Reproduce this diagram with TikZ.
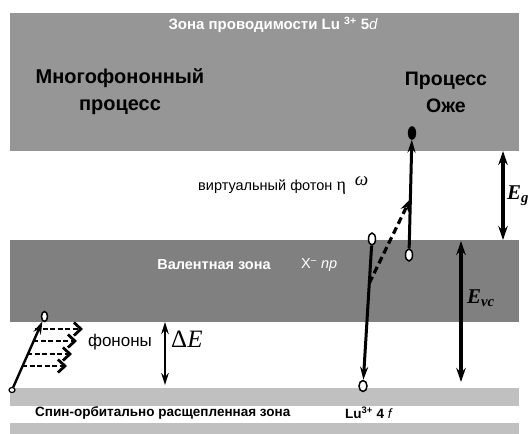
\documentclass[tikz,border=0pt]{standalone}
\usepackage{fontspec}
\setmainfont{Liberation Sans}
\newfontfamily\tnr{Liberation Serif}
\usetikzlibrary{arrows.meta,shapes.geometric,calc}
\definecolor{cbandc}{RGB}{150,150,150}
\definecolor{vbandc}{RGB}{128,128,128}
\definecolor{sbandc}{RGB}{192,192,192}
\begin{document}
\begin{tikzpicture}[x=1pt,y=-1pt,
  band/.style={fill=#1,draw=none,inner sep=0,anchor=north west},
  hole/.style={ellipse,draw=black,fill=white,line width=1.5pt,inner sep=0,minimum width=7pt,minimum height=12pt},
  filled/.style={ellipse,draw=black,fill=black,inner sep=0,minimum width=8pt,minimum height=13pt},
  arr/.style={line width=3pt,-{Stealth[length=13pt,width=8pt]}},
  darr/.style={line width=3.2pt,dash pattern=on 7pt off 4pt,-{Stealth[length=13pt,width=8.5pt]}},
  dbl/.style={line width=3.2pt,{Stealth[length=14pt,width=9.5pt]}-{Stealth[length=14pt,width=9.5pt]}},
  thindbl/.style={line width=2.6pt,{Stealth[length=12pt,width=7.5pt]}-{Stealth[length=12pt,width=7.5pt]}},
  phon/.style={line width=2.8pt,dash pattern=on 5pt off 2.5pt,-{Straight Barb[length=7pt,width=13pt,line width=2.8pt]}},
  lbl/.style={inner sep=0},
]
\useasboundingbox (0,0) rectangle (528,434);
% bands
\node[band=cbandc,minimum width=509pt,minimum height=138pt] (cb) at (10,13) {};
\node[band=vbandc,minimum width=509pt,minimum height=82pt] (vb) at (10,240) {};
\node[band=sbandc,minimum width=509pt,minimum height=18pt] (sb) at (10,388) {};
\node[band=sbandc,minimum width=509pt,minimum height=12pt] (bb) at (10,423) {};
% texts
\node[lbl,text=white,font=\bfseries\fontsize{15}{17}\selectfont] (ct) at (273,25) {Зона проводимости Lu \textsuperscript{3+} 5{\mdseries\itshape d}};
\node[lbl,align=center,font=\bfseries\fontsize{20}{27}\selectfont] (mp) at (120,92) {Многофононный\\процесс};
\node[lbl,align=center,font=\bfseries\fontsize{19.5}{27}\selectfont] (ap) at (446,92) {Процесс\\Оже};
\node[lbl,anchor=base west,font=\fontsize{14.5}{17}\selectfont] (vp) at (198,190) {виртуальный фотон {\tnr\fontsize{18}{18}\selectfont η}\hspace{9pt}\raisebox{5pt}{\tnr\itshape\fontsize{19}{19}\selectfont ω}};
\node[lbl,text=white,font=\bfseries\fontsize{14.5}{17}\selectfont] (vz) at (214,265) {Валентная зона};
\node[lbl,text=white,anchor=west,font=\fontsize{14.5}{17}\selectfont] (xn) at (301,265) {X\textsuperscript{–} \textit{np}};
\node[lbl,font=\fontsize{17}{19}\selectfont] (ph) at (120,342) {фононы};
\node[lbl,anchor=west,font=\tnr\fontsize{25}{27}\selectfont] (de) at (171,339) {Δ\textit{E}};
\node[lbl,anchor=west,font=\bfseries\fontsize{13.5}{16}\selectfont] (so) at (35,413) {Спин-орбитально расщепленная зона};
\node[lbl,anchor=west,font=\bfseries\fontsize{13.5}{16}\selectfont] (lu) at (345,413) {Lu\textsuperscript{3+} 4 {\mdseries\itshape f}};
\node[lbl,anchor=west,font=\tnr\bfseries\itshape\fontsize{21}{23}\selectfont] (eg) at (507,196) {E\textsubscript{g}};
\node[lbl,anchor=west,font=\tnr\bfseries\itshape\fontsize{21}{23}\selectfont] (ev) at (467,298) {E\textsubscript{vc}};
% electrons and holes
\node[hole] (e1) at (409,255) {};
\node[filled] (e2) at (412,133) {};
\node[hole] (e3) at (372,239) {};
\node[hole,minimum width=8pt,minimum height=11pt] (e4) at (363,386) {};
\node[hole,line width=1.2pt,minimum width=6pt,minimum height=5pt] (e5) at (12,390) {};
\node[hole,minimum width=6pt,minimum height=10pt] (e6) at (44.5,316.5) {};
% transitions
\draw[arr] (e1) -- (e2);
\draw[arr] (e3) -- (e4);
\coordinate (d1) at ($(e3)!0.3!(e4)$);
\coordinate (d2) at ($(e1)!0.46!(e2)$);
\draw[darr] (d1) -- (d2);
\draw[arr,line width=2.4pt] (e5) -- (e6);
% phonons
\coordinate (p1s) at (35,329); \coordinate (p1e) at (83,329);
\coordinate (p2s) at (33,341); \coordinate (p2e) at (77,341);
\coordinate (p3s) at (27,354); \coordinate (p3e) at (72,354);
\coordinate (p4s) at (22,366); \coordinate (p4e) at (67,366);
\draw[phon] (p1s) -- (p1e);
\draw[phon] (p2s) -- (p2e);
\draw[phon] (p3s) -- (p3e);
\draw[phon] (p4s) -- (p4e);
% energy gaps
\coordinate (g1) at (503,151); \coordinate (g2) at (503,240);
\draw[dbl] (g1) -- (g2);
\coordinate (v1) at (461,241); \coordinate (v2) at (461,382);
\draw[dbl] (v1) -- (v2);
\coordinate (de1) at (165,322); \coordinate (de2) at (165,385);
\draw[thindbl] (de1) -- (de2);
\end{tikzpicture}
\end{document}
